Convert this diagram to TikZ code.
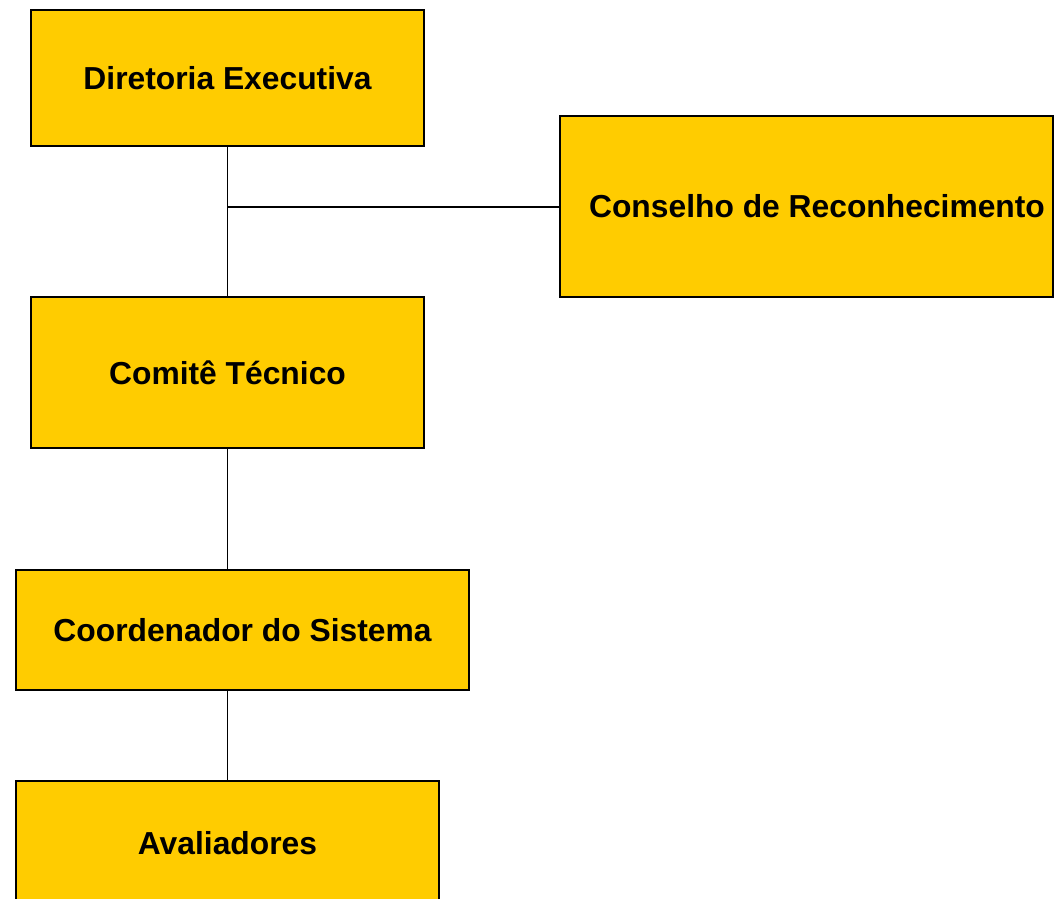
\documentclass[tikz,border=0pt]{standalone}
\usepackage{fontspec}
\setmainfont{Liberation Sans}
\definecolor{boxfill}{HTML}{FFCC00}
\begin{document}
\begin{tikzpicture}[x=1pt,y=-1pt,
  orgbox/.style={draw=black, line width=2pt, fill=boxfill, inner sep=0pt,
    font=\fontsize{31.8}{38}\selectfont\bfseries, text=black},
  link/.style={draw=black, line width=1.5pt}]
\useasboundingbox (0,0) rectangle (1055,899);
\node[orgbox, minimum width=393pt, minimum height=136pt] (DE) at (227.5,78) {Diretoria Executiva};
\node[orgbox, minimum width=493pt, minimum height=181pt] (CR) at (806.5,206.5) {\hspace*{21pt}Conselho de Reconhecimento};
\node[orgbox, minimum width=393pt, minimum height=151pt] (CT) at (227.5,372.5) {Comitê Técnico};
\node[orgbox, minimum width=453pt, minimum height=120pt] (CS) at (242.5,630) {Coordenador do Sistema};
\node[orgbox, minimum width=423pt, minimum height=124pt] (AV) at (227.5,843) {Avaliadores};
\coordinate (J) at (227.5,207);
\draw[link] (DE.south) -- (CT.north);
\draw[link] (J) -- (J -| CR.west);
\draw[link] (CT.south) -- (CT.south |- CS.north);
\draw[link] (AV.north |- CS.south) -- (AV.north);
\end{tikzpicture}
\end{document}
